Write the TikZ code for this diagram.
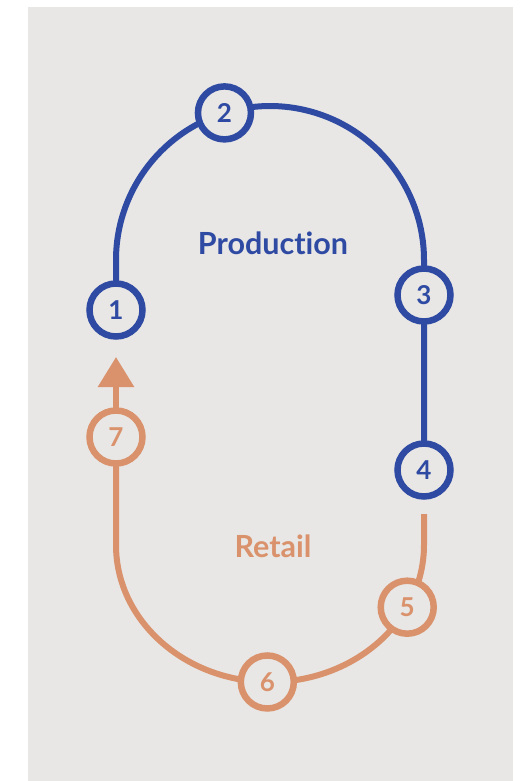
\documentclass[tikz,border=0pt]{standalone}
\usepackage{fontspec}
\setmainfont{Lato}[Ligatures=NoCommon]
\usetikzlibrary{arrows.meta,backgrounds,calc}
\definecolor{prodblue}{RGB}{46,74,162}
\definecolor{retailorange}{RGB}{218,146,108}
\definecolor{paper}{RGB}{232,231,229}
\tikzset{
  stepdot/.style={circle, draw=#1, line width=6.5pt, fill=paper, minimum size=53pt,
    inner sep=0pt, text=#1, font=\fontsize{26}{26}\selectfont\bfseries},
  track/.style={line width=6pt, draw=#1},
  areatitle/.style={text=#1, font=\fontsize{30.5}{30.5}\selectfont\bfseries}
}
\begin{document}
\begin{tikzpicture}[x=1pt,y=-1pt]
  \useasboundingbox (0,0) rectangle (521,781);

  % production steps
  \node[stepdot=prodblue] (n1) at (116,310) {1};
  \node[stepdot=prodblue] (n2) at ($(270,260)+(252.8:154)$) {2};
  \node[stepdot=prodblue] (n3) at (424,295) {3};
  \node[stepdot=prodblue] (n4) at (424,470) {4};

  % retail steps
  \node[stepdot=retailorange] (n5) at ($(270,545)+(27:154 and 137)$) {5};
  \node[stepdot=retailorange] (n6) at ($(270,545)+(91:154 and 137)$) {6};
  \node[stepdot=retailorange] (n7) at (116,437) {7};

  \coordinate (rstart) at (424,514);
  \coordinate (tip) at (116,357);

  \node[areatitle=prodblue] (prod) at (273,243) {Production};
  \node[areatitle=retailorange] (retail) at (273,546) {Retail};

  \begin{pgfonlayer}{background}
    % panel
    \fill[paper] (28,7) rectangle (513,781);
    % production loop
    \draw[track=prodblue] (n1.center) -- (116,260) arc[start angle=180, end angle=252.8, radius=154]
      -- (n2.center) arc[start angle=252.8, end angle=360, radius=154]
      -- (n3.center) -- (n4.center);
    % retail loop
    \draw[track=retailorange] (rstart) -- (424,545)
      arc[start angle=0, end angle=27, x radius=154, y radius=137] -- (n5.center)
      arc[start angle=27, end angle=91, x radius=154, y radius=137] -- (n6.center)
      arc[start angle=91, end angle=180, x radius=154, y radius=137]
      -- (n7.center);
    \draw[track=retailorange, -{Triangle[width=35pt,length=30pt]}] (n7.center) -- (tip);
  \end{pgfonlayer}
\end{tikzpicture}
\end{document}
